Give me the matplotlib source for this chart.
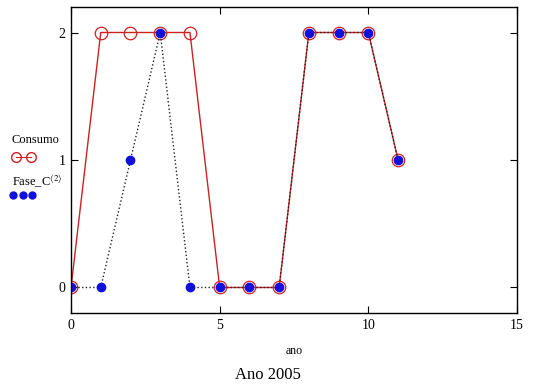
import matplotlib
matplotlib.use('Agg')
import matplotlib.pyplot as plt
from matplotlib.lines import Line2D

plt.rcParams['font.family'] = ['Liberation Serif', 'DejaVu Serif']
plt.rcParams['mathtext.fontset'] = 'stix'

# data
ano = [0, 1, 2, 3, 4, 5, 6, 7, 8, 9, 10, 11]
consumo = [0, 2, 2, 2, 2, 0, 0, 0, 2, 2, 2, 1]
fase_c = [0, 0, 1, 2, 0, 0, 0, 0, 2, 2, 2, 1]
x_ticks = [0, 5, 10, 15]
y_ticks = [0, 1, 2]

fig = plt.figure(figsize=(5.36, 3.89), dpi=100)
ax = fig.add_axes([0.1325, 0.1954, 0.8321, 0.7866])

ax.plot(ano, consumo, color='#cc2222', linewidth=1.0, marker='o', markersize=9,
        markerfacecolor='none', markeredgecolor='#cc2222', markeredgewidth=0.9)
ax.plot(ano, fase_c, color='#222222', linewidth=1.0, linestyle=':', marker='o',
        markersize=6, markerfacecolor='#1010dd', markeredgecolor='#1010dd')

ax.set_xlim(0, 15)
ax.set_ylim(-0.2, 2.2)
ax.set_xticks(x_ticks)
ax.set_yticks(y_ticks)
ax.tick_params(direction='in', length=5, width=0.8, top=True, right=True,
               labelsize=10, pad=4)
for s in ax.spines.values():
    s.set_linewidth(1.0)

ax.set_xlabel('ano', fontsize=8.5, labelpad=10)
fig.text(0.5, 0.035, 'Ano 2005', ha='center', va='center', fontsize=12)

# legend at the left side, outside the axes
fig.text(0.022, 0.64, 'Consumo', fontsize=9, va='center', ha='left')
fig.text(0.022, 0.535, r'Fase_C$^{\langle 2\rangle}$', fontsize=9, va='center', ha='left')
fig.add_artist(Line2D([0.03, 0.057], [0.596, 0.596], transform=fig.transFigure,
                      color='#cc2222', linewidth=0.8, marker='o', markersize=7,
                      markerfacecolor='none', markeredgecolor='#cc2222'))
fig.add_artist(Line2D([0.025, 0.042, 0.06], [0.5, 0.5, 0.5], transform=fig.transFigure,
                      linestyle='none', marker='o', markersize=5,
                      markerfacecolor='#1010dd', markeredgecolor='#1010dd'))

fig.savefig('out.png', dpi=100)
